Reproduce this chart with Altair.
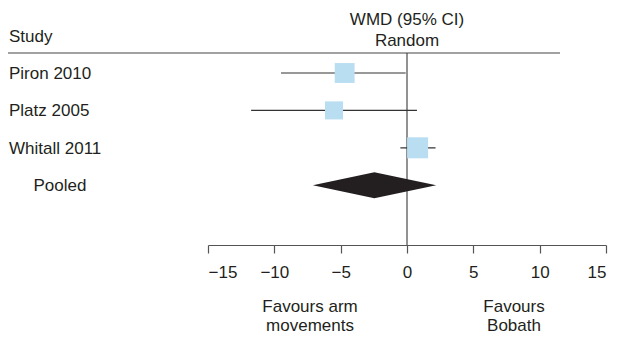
import altair as alt
import pandas as pd

studies = ["Piron 2010", "Platz 2005", "Whitall 2011"]
wmd = [-4.7, -5.5, 0.8]
ci_low = [-9.5, -11.75, -0.5]
ci_high = [-0.1, 0.75, 2.15]
weights = [34, 28, 38]

pooled_label = "Pooled"
pooled_est = -2.46
pooled_low = -7.1
pooled_high = 2.2

x_ticks = [-15, -10, -5, 0, 5, 10, 15]
header_left = "Study"
header_right = ["WMD (95% CI)", "Random"]
favours_left = ["Favours arm", "movements"]
favours_right = ["Favours", "Bobath"]

FONT = "Liberation Sans"
FS = 17
TXT = "#231f20"
PAD_L, PAD_T = 200, 45
W, H = 398, 192
PAD_R, PAD_B = 609 - PAD_L - W, 327 - PAD_T - H
ROW_PX = 37.4

rows = list(range(1, len(studies) + 1))
pooled_row = len(studies) + 1

df = pd.DataFrame({"study": studies, "wmd": wmd, "lo": ci_low, "hi": ci_high,
                   "w": weights, "row": rows})

x_scale = alt.Scale(domain=[x_ticks[0], x_ticks[-1]], nice=False, zero=False)
y_scale = alt.Scale(domain=[1 - 20 / ROW_PX, 1 + 172 / ROW_PX], reverse=True, nice=False, zero=False)

xenc = alt.X("wmd:Q", scale=x_scale,
             axis=alt.Axis(values=x_ticks, grid=False, title=None, tickSize=8,
                           domainColor="#555", tickColor="#555", labelFontSize=FS,
                           labelFont=FONT, labelColor=TXT, labelBaseline="alphabetic",
                           labelPadding=24, domainWidth=1.2, tickWidth=1.2))
yenc = alt.Y("row:Q", scale=y_scale, axis=None)

ci = alt.Chart(df).mark_rule(color="#333", strokeWidth=1.2).encode(
    x=alt.X("lo:Q", scale=x_scale), x2="hi:Q", y=yenc)

squares = alt.Chart(df).mark_square(color="#b9ddf1", opacity=1).encode(
    x=xenc, y=yenc,
    size=alt.Size("w:Q", scale=alt.Scale(domain=[0, 38], range=[0, 441]), legend=None))

half = 13 / ROW_PX
dia = pd.DataFrame({
    "x": [pooled_low, pooled_est, pooled_high],
    "y1": [pooled_row, pooled_row - half, pooled_row],
    "y2": [pooled_row, pooled_row + half, pooled_row],
})
diamond = alt.Chart(dia).mark_area(color="#231f20", opacity=1).encode(
    x=alt.X("x:Q", scale=x_scale),
    y=alt.Y("y1:Q", scale=y_scale, axis=None), y2="y2:Q")

zero_line = alt.Chart(pd.DataFrame({"z": [0]})).mark_rule(color="#777", strokeWidth=1.6).encode(
    x=alt.X("z:Q", scale=x_scale), y=alt.value(0), y2=alt.value(H))

header_line = alt.Chart(pd.DataFrame({"a": [0]})).mark_rule(color="#444", strokeWidth=1.2).encode(
    x=alt.value(-PAD_L), x2=alt.value(352), y=alt.value(0))

labels_df = pd.DataFrame({"label": studies, "row": rows})
labels = alt.Chart(labels_df).mark_text(align="left", baseline="alphabetic", dy=6, fontSize=FS,
                                         font=FONT, color=TXT).encode(
    x=alt.value(9 - 8 - PAD_L), y=yenc, text="label:N")

pooled_df = pd.DataFrame({"label": [pooled_label], "row": [pooled_row]})
pooled_txt = alt.Chart(pooled_df).mark_text(align="center", baseline="alphabetic", dy=6, fontSize=FS,
                                            font=FONT, color=TXT).encode(
    x=alt.value(60 - 8 - PAD_L), y=yenc, text="label:N")

def txt(s, x, y, align="center"):
    return alt.Chart(pd.DataFrame({"t": [s]})).mark_text(
        align=align, baseline="alphabetic", fontSize=FS, font=FONT, color=TXT).encode(
        x=alt.value(x), y=alt.value(y), text="t:N")

def tx_datum(s, v, y):
    return alt.Chart(pd.DataFrame({"t": [s], "v": [v]})).mark_text(
        align="center", baseline="alphabetic", fontSize=FS, font=FONT, color=TXT).encode(
        x=alt.X("v:Q", scale=x_scale), y=alt.value(y), text="t:N")

texts = [
    txt(header_left, 9 - 8 - PAD_L, -11, "left"),
    tx_datum(header_right[0], 0, -28),
    tx_datum(header_right[1], 0, -7),
    txt(favours_left[0], 310 - 8 - PAD_L, 259),
    txt(favours_left[1], 310 - 8 - PAD_L, 278),
    txt(favours_right[0], 514 - 8 - PAD_L, 259),
    txt(favours_right[1], 514 - 8 - PAD_L, 278),
]

chart = alt.layer(zero_line, header_line, ci, squares, diamond, labels, pooled_txt, *texts).properties(
    width=W, height=H,
    autosize=alt.AutoSizeParams(type="none"),
    padding={"left": PAD_L, "top": PAD_T, "right": PAD_R, "bottom": PAD_B},
).configure_view(stroke=None)

chart.save("out.html", embed_options={"renderer": "svg", "actions": False})
